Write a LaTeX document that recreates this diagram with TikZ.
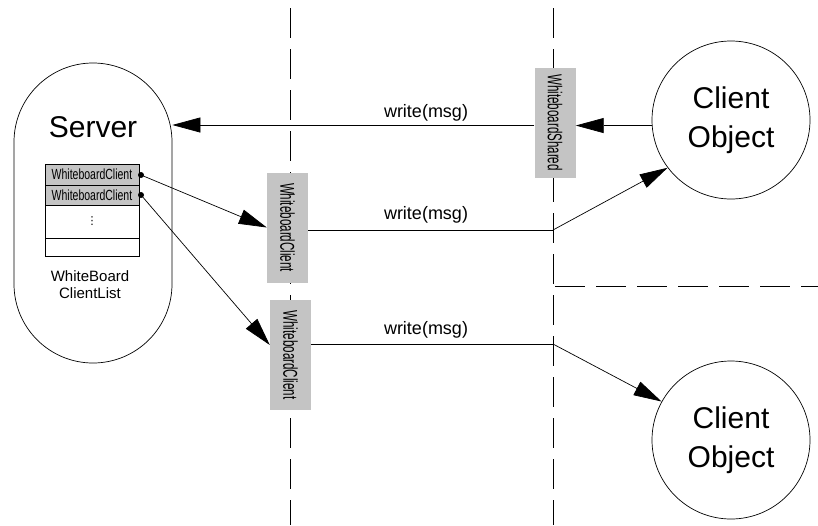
\documentclass[tikz,border=0pt]{standalone}
\usepackage{fontspec}
\setmainfont{Liberation Sans}
\newfontfamily\symfont{DejaVu Sans}
\usetikzlibrary{arrows.meta}
\definecolor{boxgray}{HTML}{C4C4C4}
\begin{document}
\begin{tikzpicture}[x=1pt,y=-1pt,
  conn/.style={draw=black, line width=0.7pt},
  arr/.style={conn, -{Triangle[length=28pt,width=15pt]}},
  divider/.style={draw=black, line width=0.9pt, dash pattern=on 30pt off 11pt},
  objbox/.style={fill=boxgray, minimum width=110pt, minimum height=41pt, inner sep=0pt, rotate=-90, font=\fontsize{20}{20}\selectfont},
  listrow/.style={draw=black, line width=0.6pt, minimum width=94pt, inner sep=0pt, font=\fontsize{14}{14}\selectfont},
  dotnode/.style={circle, fill=black, inner sep=0pt, minimum size=6pt},
  lbl/.style={font=\fontsize{18}{18}\selectfont, inner sep=0pt},
  clientobj/.style={circle, draw=black, line width=0.7pt, minimum size=158pt, inner sep=0pt, align=center, font=\fontsize{30}{39}\selectfont}
]
\useasboundingbox (0,0) rectangle (818,525);

% dividers
\draw[divider] (290,8) -- (290,525);
\draw[divider] (553,8) -- (553,525);
\draw[divider] (555,286) -- (818,286);

% server
\node[draw=black, line width=0.7pt, rounded corners=79pt, minimum width=158pt, minimum height=300pt] (server) at (93,213) {};
\node[font=\fontsize{30}{36}\selectfont, inner sep=0pt] (srvlabel) at (93,127) {Server};

% client list
\node[listrow, fill=boxgray, minimum height=21pt] (r1) at (92,174.5) {\scalebox{0.75}[1.05]{WhiteboardClient}};
\node[listrow, fill=boxgray, minimum height=20pt] (r2) at (92,195) {\scalebox{0.75}[1.05]{WhiteboardClient}};
\node[listrow, minimum height=33pt] (r3) at (92,221.5) {\symfont\fontsize{11}{11}\selectfont ⋮};
\node[listrow, minimum height=18pt] (r4) at (92,247) {};
\node[font=\fontsize{15}{17}\selectfont, align=center, inner sep=0pt] (listlabel) at (90,285) {WhiteBoard\\ClientList};
\node[dotnode] (d1) at (141,175) {};
\node[dotnode] (d2) at (141,195) {};

% boxes on dividers
\node[objbox] (ws) at (555,122.5) {\scalebox{0.58}[1]{WhiteboardShared}};
\node[objbox] (wc1) at (287.5,227.5) {\scalebox{0.58}[1]{WhiteboardClient}};
\node[objbox] (wc2) at (290.5,355) {\scalebox{0.58}[1]{WhiteboardClient}};

% client objects
\node[clientobj] (co1) at (731,120) {Client\\Object};
\node[clientobj] (co2) at (731,440) {Client\\Object};

% bend points
\coordinate (b1) at (553,230);
\coordinate (b2) at (553,344);

% connectors
\draw[arr] ([yshift=-2.5pt]ws.south) -- ([yshift=-2.5pt]ws.south -| server.east);
\draw[arr] (co1.184) -- (co1.184 -| ws.north);
\draw[arr] (d1.center) -- (wc1.south);
\draw[arr] (d2.center) -- ([yshift=10pt]wc2.south);
\draw[conn] ([yshift=-2.5pt]wc1.north) -- (b1);
\draw[arr] (b1) -- (co1.217);
\draw[conn] ([yshift=11pt]wc2.north) -- (b2);
\draw[arr] (b2) -- (co2.151);

% labels
\node[lbl] (l1) at (426,113) {write(msg)};
\node[lbl] (l2) at (426,215) {write(msg)};
\node[lbl] (l3) at (426,330) {write(msg)};
\end{tikzpicture}
\end{document}
